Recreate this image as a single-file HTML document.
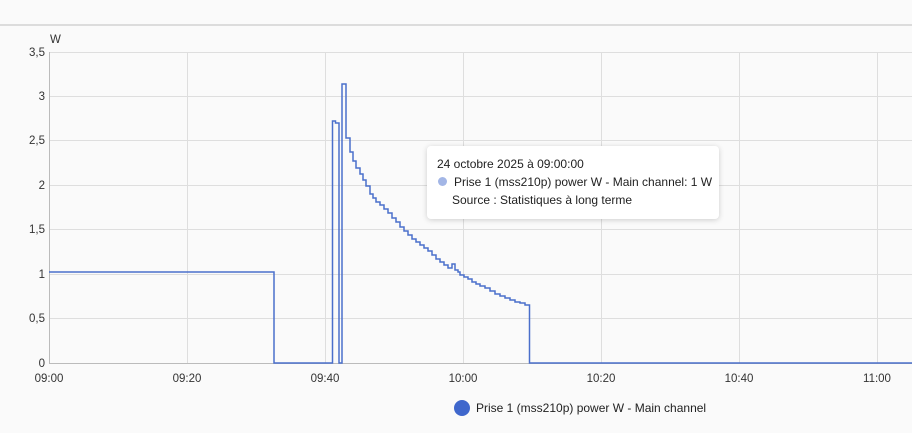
<!DOCTYPE html>
<html><head><meta charset="utf-8"><style>
html,body{margin:0;padding:0;background:#fafafa;}
body{width:912px;height:433px;overflow:hidden;position:relative;font-family:"Liberation Sans",Roboto,sans-serif;}
.tt{position:absolute;left:427px;top:146px;width:292px;height:73px;background:#fff;border-radius:4px;box-shadow:0 1px 6px rgba(0,0,0,0.18);font-size:12px;color:#222;}
.tt div{position:absolute;white-space:nowrap;}
</style></head><body>
<svg width="912" height="433" style="position:absolute;left:0;top:0" font-family="Liberation Sans, sans-serif">
<line x1="0" y1="25" x2="912" y2="25" stroke="#dcdcdc" stroke-width="2"/>
<g stroke="#dedede" stroke-width="1">
<line x1="49" y1="52.5" x2="912" y2="52.5"/><line x1="49" y1="96.5" x2="912" y2="96.5"/>
<line x1="49" y1="140.5" x2="912" y2="140.5"/><line x1="49" y1="185.5" x2="912" y2="185.5"/>
<line x1="49" y1="229.5" x2="912" y2="229.5"/><line x1="49" y1="274.5" x2="912" y2="274.5"/>
<line x1="49" y1="318.5" x2="912" y2="318.5"/>
<line x1="187.5" y1="52" x2="187.5" y2="363"/><line x1="325.5" y1="52" x2="325.5" y2="363"/>
<line x1="463.5" y1="52" x2="463.5" y2="363"/><line x1="601.5" y1="52" x2="601.5" y2="363"/>
<line x1="739.5" y1="52" x2="739.5" y2="363"/><line x1="877.5" y1="52" x2="877.5" y2="363"/>
</g>
<line x1="49.5" y1="52" x2="49.5" y2="363" stroke="#bbb"/>
<line x1="49" y1="363.5" x2="912" y2="363.5" stroke="#bbb"/>
<g font-size="11.5" fill="#333" text-anchor="end">
<text x="45" y="56">3,5</text><text x="45" y="100">3</text><text x="45" y="144">2,5</text>
<text x="45" y="189">2</text><text x="45" y="233">1,5</text><text x="45" y="278">1</text>
<text x="45" y="322">0,5</text><text x="45" y="367">0</text>
</g>
<text x="50" y="43" font-size="11.5" fill="#333">W</text>
<g font-size="11.5" fill="#333" text-anchor="middle">
<text x="49" y="382">09:00</text><text x="187" y="382">09:20</text><text x="325" y="382">09:40</text>
<text x="463" y="382">10:00</text><text x="601" y="382">10:20</text><text x="739" y="382">10:40</text>
<text x="877" y="382">11:00</text>
</g>
<path fill="none" stroke="#4a6fcb" stroke-width="1.5" d="M49,272H274V363H332.5V121H335.5V123H339V363H342V84H346V138H350V152H353V161H356V168H360V174H363V180H366V186H370V194H373V198H376V202H380V205H384V209H388V213H392V218H396V222H400V227H404V231H408V235H412V239H416V242H420V245H424V248H428V251H432V255H436V259H440V262H444V265H448V268H452V264H455V270H458V272H460V275H464V277H468V279H472V282H476V284H480V286H485V288H490V291H495V294H500V296H505V298H510V300H515V302H520V303H525V305H529.5V306V363H912"/>
<circle cx="462" cy="408" r="8" fill="#3f67cc"/>
<text x="476" y="412" font-size="12" fill="#222">Prise 1 (mss210p) power W - Main channel</text>
</svg>
<div class="tt">
<div style="left:10px;top:11px">24 octobre 2025 à 09:00:00</div>
<div style="left:11px;top:31px;width:9px;height:9px;border-radius:50%;background:#a3b6e6"></div>
<div style="left:27px;top:29px">Prise 1 (mss210p) power W - Main channel: 1 W</div>
<div style="left:25px;top:47px">Source : Statistiques à long terme</div>
</div>
</body></html>
